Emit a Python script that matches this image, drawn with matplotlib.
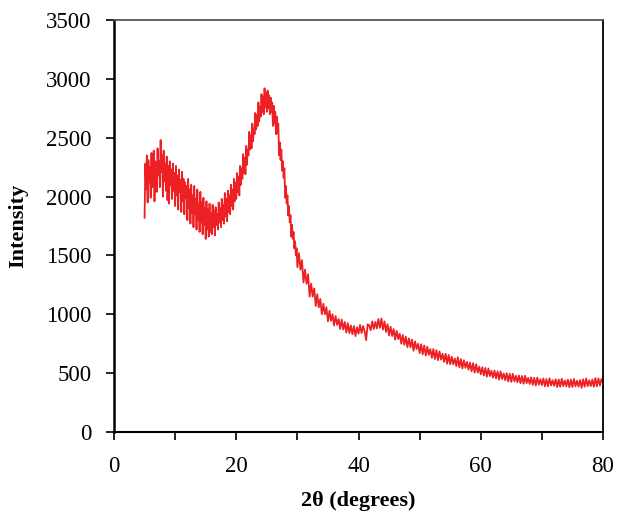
import numpy as np
import matplotlib
matplotlib.use("Agg")
import matplotlib.pyplot as plt
from matplotlib.ticker import MultipleLocator

plt.rcParams['font.family'] = ['Liberation Serif', 'DejaVu Serif']

# ============ Data ============================================
# scan grid: 0.125 deg steps for 5-30 deg, 0.25 deg steps for 30-80 deg
two_theta = np.concatenate([np.arange(5, 30, 0.125), np.arange(30, 80.001, 0.25)])

# 5 - 30 deg (8 points per degree)
intensity_low = [
    1820, 2280, 2060, 2350, 1950, 2310, 2120, 2250,   # 5
    1990, 2370, 2080, 2200, 2390, 1960, 2300, 2150,   # 6
    2040, 2410, 2180, 2300, 2080, 2480, 2210, 2350,   # 7
    2000, 2390, 2130, 2280, 2050, 2340, 1970, 2260,   # 8
    1940, 2300, 2100, 2230, 1980, 2280, 2050, 2200,   # 9
    1920, 2260, 2010, 2180, 1890, 2230, 2040, 2140,   # 10
    1870, 2210, 1960, 2150, 1850, 2120, 1990, 2090,   # 11
    1800, 2150, 1900, 2060, 1770, 2100, 1860, 2010,   # 12
    1740, 2090, 1850, 1980, 1720, 2060, 1800, 1940,   # 13
    1700, 2040, 1780, 1950, 1680, 1990, 1760, 1900,   # 14
    1640, 1960, 1720, 1890, 1660, 1940, 1700, 1860,   # 15
    1680, 1930, 1740, 1880, 1670, 1910, 1760, 1850,   # 16
    1720, 1950, 1780, 1900, 1740, 1980, 1800, 1930,   # 17
    1770, 2030, 1830, 1980, 1790, 2050, 1870, 2010,   # 18
    1850, 2100, 1920, 2060, 1890, 2150, 1960, 2120,   # 19
    1980, 2200, 2040, 2170, 2010, 2260, 2100, 2240,   # 20
    2150, 2360, 2200, 2330, 2190, 2430, 2270, 2400,   # 21
    2350, 2550, 2400, 2520, 2410, 2620, 2470, 2580,   # 22
    2530, 2710, 2570, 2690, 2600, 2800, 2640, 2760,   # 23
    2680, 2870, 2720, 2850, 2700, 2920, 2760, 2880,   # 24
    2720, 2900, 2750, 2860, 2700, 2840, 2720, 2800,   # 25
    2600, 2770, 2620, 2720, 2530, 2680, 2540, 2620,   # 26
    2350, 2460, 2310, 2400, 2220, 2300, 2160, 2240,   # 27
    1990, 2090, 1940, 2010, 1840, 1920, 1780, 1840,   # 28
    1660, 1760, 1640, 1700, 1560, 1620, 1500, 1560,   # 29
]

# 30 - 80 deg (4 points per degree)
intensity_high = [
    1400, 1520, 1380, 1460,   # 30
    1270, 1380, 1260, 1340,   # 31
    1150, 1260, 1150, 1220,   # 32
    1070, 1170, 1060, 1130,   # 33
    1000, 1090, 1000, 1060,   # 34
    940, 1030, 945, 1000,     # 35
    905, 985, 910, 960,       # 36
    875, 955, 870, 935,       # 37
    845, 925, 840, 905,       # 38
    830, 900, 815, 890,       # 39
    835, 910, 840, 900,       # 40
    855, 780, 915, 905,       # 41
    865, 940, 875, 935,       # 42
    880, 960, 885, 965,       # 43
    870, 940, 850, 915,       # 44
    820, 895, 815, 875,       # 45
    785, 860, 790, 835,       # 46
    750, 825, 740, 810,       # 47
    720, 795, 720, 785,       # 48
    690, 770, 705, 750,       # 49
    670, 745, 660, 735,       # 50
    650, 725, 655, 705,       # 51
    630, 705, 620, 695,       # 52
    610, 685, 615, 665,       # 53
    595, 665, 580, 655,       # 54
    575, 640, 575, 625,       # 55
    560, 635, 550, 620,       # 56
    540, 610, 545, 595,       # 57
    530, 590, 515, 585,       # 58
    505, 575, 505, 555,       # 59
    490, 550, 480, 545,       # 60
    470, 540, 475, 520,       # 61
    462, 522, 455, 515,       # 62
    445, 515, 450, 498,       # 63
    440, 500, 430, 495,       # 64
    425, 495, 430, 478,       # 65
    422, 480, 415, 476,       # 66
    410, 478, 415, 460,       # 67
    408, 465, 400, 460,       # 68
    395, 462, 402, 448,       # 69
    398, 455, 388, 450,       # 70
    388, 456, 395, 440,       # 71
    392, 448, 382, 446,       # 72
    384, 452, 390, 438,       # 73
    388, 444, 380, 445,       # 74
    382, 450, 388, 436,       # 75
    386, 442, 375, 448,       # 76
    385, 454, 390, 440,       # 77
    390, 446, 385, 458,       # 78
    388, 455, 395, 450,       # 79
    425,                      # 80
]

intensity = intensity_low + intensity_high

xlabel = "2\u03b8 (degrees)"
ylabel = "Intensity"
figname = "out.png"

# ===========================================

fig = plt.figure(figsize=(6.17, 5.18), dpi=100)
ax = fig.add_axes([0.1848, 0.166, 0.7925, 0.7954])

ax.plot(two_theta, intensity, color='#ED2024', linewidth=1.3)

ax.set_xlim(0, 80)
ax.set_ylim(0, 3500)
ax.xaxis.set_major_locator(MultipleLocator(20))
ax.xaxis.set_minor_locator(MultipleLocator(10))
ax.yaxis.set_major_locator(MultipleLocator(500))

ax.tick_params(axis='both', which='both', direction='out', length=6,
               width=1.2, labelsize=16.5, color='black')
ax.tick_params(axis='x', which='major', pad=11)
ax.tick_params(axis='y', which='major', pad=10)

for side in ['left', 'bottom', 'right']:
    ax.spines[side].set_color('black')
ax.spines['left'].set_linewidth(1.8)
ax.spines['bottom'].set_linewidth(1.5)
ax.spines['right'].set_linewidth(1.3)
ax.spines['top'].set_color('#555555')
ax.spines['top'].set_linewidth(1.3)

ax.set_xlabel(xlabel, fontsize=16, fontweight='bold', labelpad=10)
ax.set_ylabel(ylabel, fontsize=16, fontweight='bold', labelpad=13)

plt.savefig(figname, dpi=100)
